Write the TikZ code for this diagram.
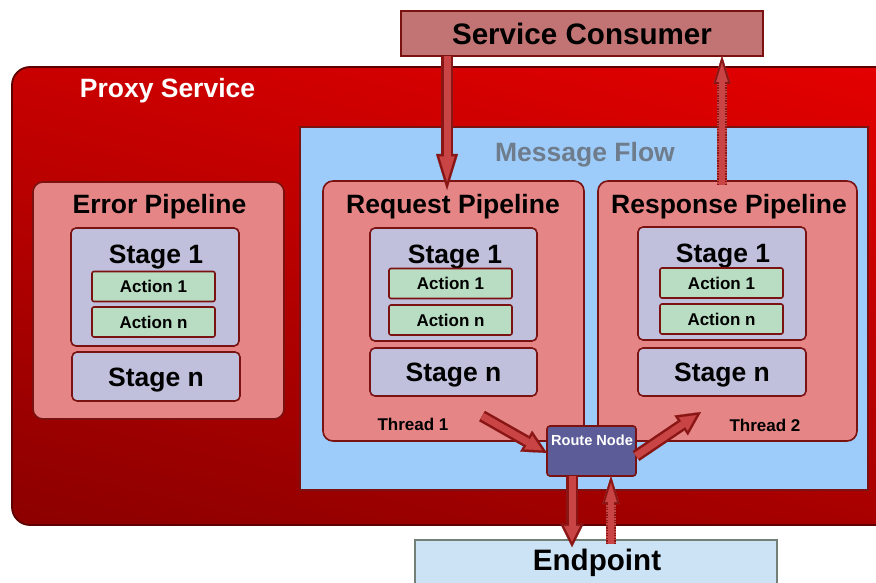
\documentclass[tikz,border=0pt]{standalone}
\usepackage{fontspec}
\setmainfont{Liberation Sans}
\usetikzlibrary{arrows.meta,shadings}
\definecolor{darkr}{HTML}{7A1212}
\definecolor{psedge}{HTML}{5E0000}
\definecolor{psUL}{HTML}{C80000}
\definecolor{psUR}{HTML}{E40000}
\definecolor{psLL}{HTML}{8C0000}
\definecolor{psLR}{HTML}{A80000}
\definecolor{scfill}{HTML}{C27373}
\definecolor{mfblue}{HTML}{9DCCFA}
\definecolor{pipe}{HTML}{E68585}
\definecolor{stage}{HTML}{C0C0DC}
\definecolor{action}{HTML}{B8DDC2}
\definecolor{route}{HTML}{5C5C98}
\definecolor{endp}{HTML}{CCE3F6}
\definecolor{endedge}{HTML}{728078}
\definecolor{arrfill}{HTML}{C94545}
\definecolor{arrdark}{HTML}{8A1515}
\definecolor{mftext}{HTML}{6E7C8C}
\newcommand\fsz[1]{\fontsize{#1pt}{#1pt}\selectfont\bfseries}
\begin{document}
\begin{tikzpicture}[x=1pt,y=-1pt,
  box/.style={draw=darkr, line width=1.6pt, inner sep=0pt, outer sep=0pt},
  pipebox/.style={box, fill=pipe, rounded corners=10pt},
  stagebox/.style={box, fill=stage, rounded corners=5pt},
  actbox/.style={box, fill=action, rounded corners=2pt, minimum width=123pt, minimum height=30pt, font=\fsz{17}, text height=12.2pt, text depth=0pt},
  bigtxt/.style={font=\fsz{29.6}, text height=21.2pt, text depth=0pt, inner sep=0pt},
  ttl/.style={font=\fsz{26.5}, text height=19pt, text depth=0pt, inner sep=0pt},
  smalltxt/.style={font=\fsz{17}, text height=12.2pt, text depth=0pt, inner sep=0pt},
  fatlong/.style={draw=arrfill, line width=7pt,
     -{Triangle[length=24.9pt,width=15.2pt,line width=0.1pt]}, shorten >=8.6pt,
     preaction={draw=arrdark, line width=12pt, shorten >=0pt,
     -{Triangle[length=36pt,width=22pt,line width=0.1pt]}}},
  fat/.style={draw=arrfill, line width=7pt,
     -{Triangle[length=15.9pt,width=15.9pt,line width=0.1pt]}, shorten >=5.6pt,
     preaction={draw=arrdark, line width=12pt, shorten >=0pt,
     -{Triangle[length=24pt,width=24pt,line width=0.1pt]}}},
  fatdot/.style={draw=arrdark, line width=10pt, dash pattern=on 1.3pt off 1.3pt,
     -{Triangle[length=28pt,width=17pt,line width=0.1pt]},
     preaction={draw=arrfill, line width=10pt, -{Triangle[length=28pt,width=17pt,line width=0.1pt]}},
     postaction={draw=arrfill, line width=6pt, solid, shorten >=6.9pt,
     -{Triangle[length=19.1pt,width=11.6pt,line width=0.1pt]}}}
]
\useasboundingbox (0,0) rectangle (876,583);
\fill[white] (0,0) rectangle (876,583);

% Service consumer
\node[box, fill=scfill, line width=2pt, minimum width=362pt, minimum height=45pt, bigtxt] (sc) at (582,33.5) {Service Consumer};

% Proxy service
\node[draw=psedge, line width=1.8pt, rounded corners=18pt, inner sep=0pt,
  upper left=psUL, upper right=psUR, lower left=psLL, lower right=psLR,
  minimum width=883pt, minimum height=458pt] (ps) at (453.5,296) {};
\node[ttl, text=white] (pst) at (167.5,88.5) {Proxy Service};

% Message flow
\node[box, fill=mfblue, line width=2pt, minimum width=568pt, minimum height=363pt] (mf) at (584,308.5) {};
\node[ttl, text=mftext] (mft) at (585,152.5) {Message Flow};

% Error pipeline
\node[pipebox, minimum width=251pt, minimum height=237pt] (errp) at (158.5,300.5) {};
\node[ttl] (errt) at (159.5,204) {Error Pipeline};
\node[stagebox, minimum width=168pt, minimum height=118pt] (errs1) at (155,287) {};
\node[ttl] (errs1t) at (156,254) {Stage 1};
\node[actbox] (erra1) at (153.5,286.5) {Action 1};
\node[actbox] (erran) at (153.5,322) {Action n};
\node[stagebox, minimum width=168pt, minimum height=49pt, ttl] (errsn) at (156,376.5) {Stage n};

% Request pipeline
\node[pipebox, minimum width=261pt, minimum height=260pt] (reqp) at (453.5,311) {};
\node[ttl] (reqt) at (453,204) {Request Pipeline};
\node[stagebox, minimum width=167pt, minimum height=113pt] (reqs1) at (453.5,284.5) {};
\node[ttl] (reqs1t) at (455,254) {Stage 1};
\node[actbox] (reqa1) at (450.5,283.5) {Action 1};
\node[actbox] (reqan) at (450.5,320) {Action n};
\node[stagebox, minimum width=167pt, minimum height=48pt, ttl] (reqsn) at (453.5,372) {Stage n};
\node[smalltxt] (th1) at (413,424) {Thread 1};

% Response pipeline
\node[pipebox, minimum width=259pt, minimum height=260pt] (resp) at (727.5,311) {};
\node[ttl] (respt) at (729,203.5) {Response Pipeline};
\node[stagebox, minimum width=168pt, minimum height=113pt] (resps1) at (722,283.5) {};
\node[ttl] (resps1t) at (723,252.5) {Stage 1};
\node[actbox] (respa1) at (721.5,283) {Action 1};
\node[actbox] (respan) at (721.5,319) {Action n};
\node[stagebox, minimum width=168pt, minimum height=48pt, ttl] (respsn) at (722,372) {Stage n};
\node[smalltxt] (th2) at (765,425) {Thread 2};

% Route node
\node[box, fill=route, rounded corners=3pt, minimum width=89pt, minimum height=50pt] (rn) at (591.5,451) {};
\node[font=\fsz{14.6}, text height=10.5pt, text depth=0pt, inner sep=0pt, text=white] (rnt) at (592,440.5) {Route Node};

% Endpoint
\node[draw=endedge, line width=1.5pt, fill=endp, inner sep=0pt, minimum width=362pt, minimum height=70pt] (ep) at (596,575) {};
\node[bigtxt] (ept) at (597,560) {Endpoint};

% Arrows
\coordinate (reqx) at (447,0);
\coordinate (respx) at (722,0);
\coordinate (downx) at (572,0);
\coordinate (upx) at (611,0);
\coordinate (t1s) at (482,416);
\coordinate (t2e) at (701,412);
\draw[fatlong] (sc.south -| reqx) -- ([yshift=-9pt]reqp.north -| reqx);
\draw[fatdot] ([yshift=-4pt]resp.north -| respx) -- (sc.south -| respx);
\draw[fat] (t1s) -- ([yshift=-2pt]rn.west);
\draw[fat] ([yshift=-5pt]rn.east) -- (t2e);
\draw[fat] (rn.south -| downx) -- ([yshift=-8pt]ep.north -| downx);
\draw[fatdot] ([yshift=-5pt]ep.north -| upx) -- (rn.south -| upx);
\end{tikzpicture}
\end{document}
